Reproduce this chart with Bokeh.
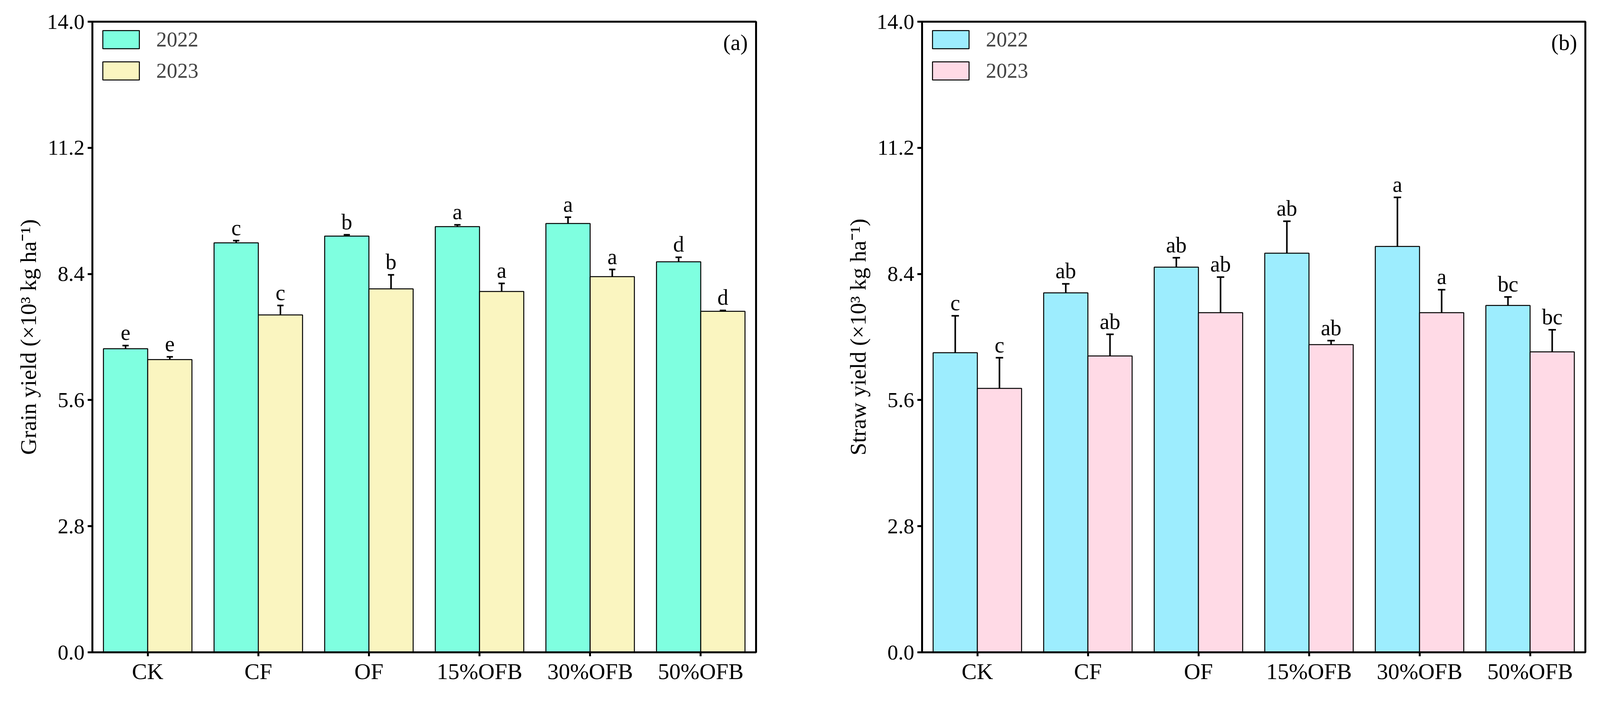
from bokeh.plotting import figure
from bokeh.models import (ColumnDataSource, FactorRange, Range1d, FixedTicker,
                          PrintfTickFormatter, Whisker, TeeHead, LabelSet, Label,
                          Legend, LegendItem)
from bokeh.transform import dodge
from bokeh.layouts import row
from bokeh.core.properties import value
from bokeh.embed import file_html
from bokeh.resources import INLINE

# ---------------- data ----------------
treatments = ["CK", "CF", "OF", "15%OFB", "30%OFB", "50%OFB"]
years = ["2022", "2023"]
y_ticks = [0.0, 2.8, 5.6, 8.4, 11.2, 14.0]

grain_2022 = [6.74, 9.09, 9.24, 9.45, 9.52, 8.67]
grain_2022_err = [0.07, 0.05, 0.03, 0.04, 0.14, 0.10]
grain_2023 = [6.50, 7.49, 8.07, 8.01, 8.34, 7.57]
grain_2023_err = [0.06, 0.21, 0.31, 0.18, 0.16, 0.02]
grain_2022_sig = ["e", "c", "b", "a", "a", "d"]
grain_2023_sig = ["e", "c", "b", "a", "a", "d"]

straw_2022 = [6.65, 7.98, 8.55, 8.86, 9.01, 7.70]
straw_2022_err = [0.82, 0.20, 0.21, 0.71, 1.09, 0.19]
straw_2023 = [5.86, 6.58, 7.54, 6.83, 7.54, 6.67]
straw_2023_err = [0.68, 0.48, 0.79, 0.09, 0.51, 0.49]
straw_2022_sig = ["c", "ab", "ab", "ab", "a", "bc"]
straw_2023_sig = ["c", "ab", "ab", "ab", "a", "bc"]

FONT = "Liberation Serif"


def make_panel(series, colors, ylabel, tag, fw, left, right, cap):
    p = figure(x_range=FactorRange(factors=treatments, range_padding=0),
               y_range=Range1d(0, 14), frame_width=fw, frame_height=1614,
               output_backend="svg", toolbar_location=None,
               min_border_left=left, min_border_right=right,
               min_border_top=55, min_border_bottom=80)
    p.xgrid.visible = False
    p.ygrid.visible = False
    p.outline_line_color = "black"
    p.outline_line_width = 5
    p.background_fill_color = "white"
    p.border_fill_color = "white"

    offsets = [-0.2, 0.2]
    items = []
    for (yr, vals, errs, sig), off, col in zip(series, offsets, colors):
        src = ColumnDataSource(dict(
            cat=treatments, top=vals,
            upper=[v + e for v, e in zip(vals, errs)],
            lower=[v - e for v, e in zip(vals, errs)],
            sig=sig))
        xd = dodge("cat", off, range=p.x_range)
        r = p.vbar(x=xd, top="top", bottom=0, width=0.4, source=src,
                   fill_color=col, line_color="black", line_width=2.5)
        items.append(LegendItem(label=yr, renderers=[r]))
        w = Whisker(base=xd, upper="upper", lower="lower", source=src,
                    line_color="black", line_width=4,
                    upper_head=TeeHead(size=cap, line_width=4, line_color="black"),
                    lower_head=TeeHead(size=cap, line_width=4, line_color="black"))
        p.add_layout(w)
        lbl = LabelSet(x=xd, y="upper", text="sig", source=src,
                       text_align="center", text_baseline="alphabetic",
                       y_offset=14, text_font=value(FONT),
                       text_font_size=value("56px"), text_color="black")
        p.add_layout(lbl)

    legend = Legend(items=items, location="top_left", margin=15, padding=0,
                    spacing=18, glyph_width=117, glyph_height=58,
                    label_standoff=32, label_text_font=FONT,
                    label_text_font_size="54px", border_line_alpha=0,
                    background_fill_alpha=0)
    p.add_layout(legend)

    p.add_layout(Label(x=6, y=14, x_offset=-21, y_offset=-21, text=tag,
                       text_align="right", text_baseline="top",
                       text_font=FONT, text_font_size="57px",
                       text_color="black"))

    for ax in (p.xaxis[0], p.yaxis[0]):
        ax.axis_line_width = 5
        ax.axis_line_color = "black"
        ax.major_tick_line_width = 5
        ax.major_tick_line_color = "black"
        ax.major_tick_in = 0
        ax.minor_tick_in = 0
        ax.minor_tick_out = 0
        ax.major_label_text_font = FONT
        ax.major_label_text_color = "black"
        ax.axis_label_text_font = FONT
        ax.axis_label_text_font_style = "normal"
        ax.axis_label_text_color = "black"

    p.yaxis.ticker = FixedTicker(ticks=y_ticks)
    p.yaxis.formatter = PrintfTickFormatter(format="%.1f")
    p.yaxis.major_tick_out = 12
    p.yaxis.major_label_text_font_size = "55px"
    p.yaxis.major_label_standoff = 8
    p.yaxis.axis_label = ylabel
    p.yaxis.axis_label_text_font_size = "58px"
    p.yaxis.axis_label_standoff = 12

    p.xaxis.major_tick_out = 10
    p.xaxis.major_label_text_font_size = "58px"
    p.xaxis.major_label_standoff = 6
    return p


p1 = make_panel(
    [("2022", grain_2022, grain_2022_err, grain_2022_sig),
     ("2023", grain_2023, grain_2023_err, grain_2023_sig)],
    ["#7FFFE0", "#FAF5C0"],
    "Grain yield (×10³ kg ha⁻¹)", "(a)", 1699, 236, 196, 16)

p2 = make_panel(
    [("2022", straw_2022, straw_2022_err, straw_2022_sig),
     ("2023", straw_2023, straw_2023_err, straw_2023_sig)],
    ["#9DEDFE", "#FFDAE6"],
    "Straw yield (×10³ kg ha⁻¹)", "(b)", 1698, 229, 14, 19)

layout = row(p1, p2)
open("out.html", "w").write(file_html(layout, INLINE))
